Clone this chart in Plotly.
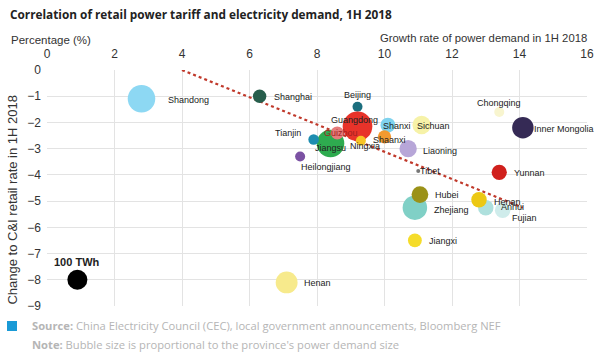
import plotly.graph_objects as go
import math

# ---- data ----
provinces = ["Shandong", "Shanghai", "Beijing", "Guangdong", "Jiangsu", "Guizhou", "Tianjin",
             "Heilongjiang", "Ningxia", "Shanxi", "Shaanxi", "Sichuan", "Liaoning", "Chongqing",
             "Inner Mongolia", "Yunnan", "Tibet", "Zhejiang", "Hubei", "Fujian", "Anhui", "Henan",
             "Jiangxi", "Henan", "100 TWh"]
growth = [2.8, 6.3, 9.2, 9.2, 8.4, 8.6, 7.9, 7.5, 9.3, 10.1, 10.0, 11.1, 10.7, 13.4,
          14.1, 13.4, 11.0, 10.9, 11.05, 13.5, 13.0, 12.8, 10.9, 7.1, 0.9]
tariff_change = [-1.1, -1.0, -1.4, -2.15, -2.8, -2.4, -2.65, -3.3, -2.7, -2.1, -2.55, -2.1, -3.0, -1.6,
                 -2.2, -3.9, -3.85, -5.25, -4.75, -5.35, -5.25, -4.95, -6.5, -8.1, -8.0]
demand_twh = [190, 45, 25, 220, 190, 42, 28, 25, 25, 55, 45, 85, 75, 25,
              115, 58, 4, 150, 70, 60, 60, 60, 48, 120, 100]
trend_x = [4.0, 14.1]
trend_y = [0.0, -5.25]
x_ticks = [0, 2, 4, 6, 8, 10, 12, 14, 16]
y_ticks = [0, -1, -2, -3, -4, -5, -6, -7, -8, -9]

# ---- styles ----
colors = ["#8dd8f3", "#275e4c", "#1b6e7e", "#e8332a", "#2eab4f", "#e57b7b", "#1d8db0",
          "#7b52a3", "#f7c325", "#7fd3ee", "#f39a30", "#f6f2a8", "#b7a6d8", "#f8f5cf",
          "#352a55", "#d0201c", "#777777", "#80d0c6", "#9b9218", "#cfeceb", "#aee0dd", "#ecc813",
          "#f5dc2a", "#f7ea8c", "#000000"]
# label offsets (px) from bubble centre
label_dx = [47, 33, 0, -3, 0, 4, -26, 26, 4, 9, 5, 12, 32, 0, 41, 30, 12, 37, 27, 22, 27, 28, 28, 31, 0]
label_dy = [-1, -1, 12, 6, -5, 0, 6, -10, -5, -1, -3, -1, -2, 9, -1, -1, 0, -2, 0, -8, 1, -2, -1, -1, 18]
label_col = ["#222"] * len(provinces)
label_col[5] = "#a32020"

sizes = [20 * math.sqrt(d / 100) for d in demand_twh]

fig = go.Figure()
fig.add_trace(go.Scatter(x=trend_x, y=trend_y, mode="lines",
                         line=dict(color="#c0392b", width=2.2, dash="dot"),
                         hoverinfo="skip", showlegend=False))
fig.add_trace(go.Scatter(x=growth, y=tariff_change, mode="markers",
                         marker=dict(size=sizes, color=colors, line=dict(width=0), opacity=1),
                         text=provinces, showlegend=False))

anns = []
for i, name in enumerate(provinces):
    bold = name == "100 TWh"
    anns.append(dict(x=growth[i], y=tariff_change[i], xref="x", yref="y",
                     text=f"<b>{name}</b>" if bold else name, showarrow=False,
                     xshift=label_dx[i], yshift=label_dy[i],
                     font=dict(family="Liberation Sans, Arial", size=11 if bold else 9, color=label_col[i])))

PW, PH = 540, 236
anns += [
    dict(text="<b>Correlation of retail power tariff and electricity demand, 1H 2018</b>",
         xref="paper", yref="paper", x=-39/PW, y=1 + 56/PH, xanchor="left", yanchor="middle",
         showarrow=False, font=dict(family="Open Sans", size=11.8, color="#222")),
    dict(text="Percentage (%)", xref="paper", yref="paper", x=-38/PW, y=1 + 30/PH,
         xanchor="left", yanchor="middle", showarrow=False,
         font=dict(family="Liberation Sans, Arial", size=11.5, color="#333")),
    dict(text="Growth rate of power demand in 1H 2018", xref="paper", yref="paper", x=1 + 2/PW,
         y=1 + 32/PH, xanchor="right", yanchor="middle", showarrow=False,
         font=dict(family="Liberation Sans, Arial", size=11.3, color="#333")),
    dict(text="Change to C&I retail rate in 1H 2018", xref="paper", yref="paper", x=-34/PW,
         y=0.451, textangle=-90, xanchor="center", yanchor="middle", showarrow=False,
         font=dict(family="Liberation Sans, Arial", size=13, color="#333")),
    dict(text="<b>Source:</b> China Electricity Council (CEC), local government announcements, Bloomberg NEF",
         xref="paper", yref="paper", x=-17/PW, y=-19/PH, xanchor="left", yanchor="middle",
         showarrow=False, font=dict(family="Open Sans", size=11.2, color="#b5b5b5")),
    dict(text="<b>Note:</b> Bubble size is proportional to the province's power demand size",
         xref="paper", yref="paper", x=-17/PW, y=-38/PH, xanchor="left", yanchor="middle",
         showarrow=False, font=dict(family="Open Sans", size=11.2, color="#b5b5b5")),
]

fig.update_layout(
    width=600, height=358,
    margin=dict(l=47, r=13, t=70, b=52, autoexpand=False),
    paper_bgcolor="white", plot_bgcolor="white",
    annotations=anns,
    shapes=[dict(type="rect", xref="paper", yref="paper", x0=-40/PW, x1=-30/PW,
                 y0=-15/PH, y1=-25/PH, fillcolor="#1a9ad6", line=dict(width=0))],
    xaxis=dict(side="top", range=[0, 16], tickvals=x_ticks, showgrid=True, gridcolor="#e3e3e3",
               zeroline=False, showline=False, ticks="", ticklabelstandoff=9,
               tickfont=dict(family="Liberation Sans, Arial", size=12, color="#333")),
    yaxis=dict(range=[-9, 0], tickvals=y_ticks, showgrid=True, gridcolor="#e3e3e3",
               zeroline=False, showline=False, ticks="", ticklabelstandoff=5,
               tickfont=dict(family="Liberation Sans, Arial", size=12, color="#333")),
)

fig.write_html("out.html", config={"displayModeBar": False},
               post_script="document.body.style.margin='0';document.body.style.overflow='hidden';")
